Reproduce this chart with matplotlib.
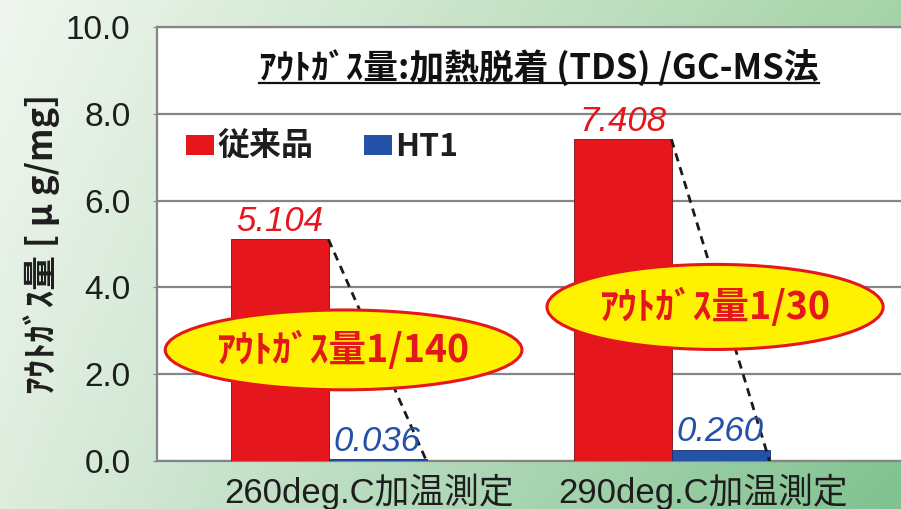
import numpy as np
import matplotlib
matplotlib.use("Agg")
import matplotlib.pyplot as plt
from matplotlib.patches import Patch, Ellipse
from matplotlib.lines import Line2D
from matplotlib.transforms import ScaledTranslation

# ---- data ----
categories = ["260deg.C加温測定", "290deg.C加温測定"]
series_names = ["従来品", "HT1"]
conventional = [5.104, 7.408]
ht1 = [0.036, 0.260]
ratio_labels = ["ｱｳﾄｶﾞｽ量1/140", "ｱｳﾄｶﾞｽ量1/30"]
title = "ｱｳﾄｶﾞｽ量:加熱脱着 (TDS) /GC-MS法"
ylabel = "ｱｳﾄｶﾞｽ量 [ μ g/mg]"
yticks = [0.0, 2.0, 4.0, 6.0, 8.0, 10.0]

RED = "#e5161c"
BLUE = "#2352a8"
FAM = ["Liberation Sans", "Noto Sans CJK JP", "DejaVu Sans"]
CJK = ["Noto Sans CJK JP", "DejaVu Sans"]
plt.rcParams["font.family"] = FAM

W, H = 901, 509
fig = plt.figure(figsize=(W / 100, H / 100), dpi=100)

# background gradient
bg = fig.add_axes([0, 0, 1, 1], zorder=-10)
tl = np.array([240, 246, 239]) / 255
tr = np.array([166, 212, 168]) / 255
bl = np.array([222, 237, 222]) / 255
br = np.array([128, 194, 144]) / 255
u = np.linspace(0, 1, 200)[None, :, None]
v = np.linspace(0, 1, 120)[:, None, None]
img = (1 - v) * ((1 - u) * tl + u * tr) + v * ((1 - u) * bl + u * br)
bg.imshow(img, aspect="auto", extent=[0, 1, 0, 1], origin="upper")
bg.set_axis_off()

left_px, right_px, top_px, bot_px = 157, 910, 27, 461
ax = fig.add_axes([left_px / W, (H - bot_px) / H,
                   (right_px - left_px) / W, (bot_px - top_px) / H])
ax.set_facecolor("white")

x = np.arange(len(categories))
w = 1 / 3.5
ax.bar(x - w / 2, conventional, w, color=RED, edgecolor="#7a1010", linewidth=0.6, zorder=3)
ax.bar(x + w / 2, ht1, w, color=BLUE, edgecolor="#1a2f66", linewidth=0.6, zorder=3)

ax.set_xlim(-0.5, (right_px - 328.5) / 343)
ax.set_ylim(0, 10)
ax.set_yticks(yticks)
ax.set_yticklabels([f"{t:.1f}" for t in yticks], fontsize=24, color="#1e1e1e",
                   family=["Liberation Sans"])
ax.tick_params(axis="y", length=3, pad=16, color="#888888")
ax.yaxis.grid(True, color="#858585", linewidth=1.6, zorder=0)
ax.set_axisbelow(True)
for s in ["left", "bottom", "top"]:
    ax.spines[s].set_color("#858585")
    ax.spines[s].set_linewidth(1.6)
ax.spines["right"].set_visible(False)

ax.set_xticks(x)
ax.set_xticklabels(categories, fontsize=25, color="#1e1e1e")
ax.tick_params(axis="x", length=0, pad=9)
offs = [41, 32]
for lab, o in zip(ax.get_xticklabels(), offs):
    lab.set_transform(lab.get_transform() + ScaledTranslation(o / 100, 0, fig.dpi_scale_trans))

ax.set_ylabel(ylabel, fontsize=25, fontweight="bold", color="#1e1e1e", family=CJK, labelpad=4)

# dashed connectors
for i in range(len(categories)):
    ax.plot([x[i], x[i] + w], [conventional[i], 0], ls=(0, (3, 2.2)), color="#1a1a1a",
            lw=2.0, zorder=4)

# value labels
for i in range(len(categories)):
    ax.annotate(f"{conventional[i]:.3f}", (x[i] - w / 2, conventional[i]), xytext=(0, 1),
                textcoords="offset points", ha="center", va="bottom", fontsize=25,
                style="italic", color=RED, zorder=6)
    ax.annotate(f"{ht1[i]:.3f}", (x[i] + w / 2, ht1[i]), xytext=(0, 1),
                textcoords="offset points", ha="center", va="bottom", fontsize=25,
                style="italic", color=BLUE, zorder=6)

# ellipses
ell_pos = [(0.044, 2.56, 1.04, 1.84), (1.127, 3.55, 0.98, 1.96)]
for (cx, cy, ew, eh), lab in zip(ell_pos, ratio_labels):
    ax.add_patch(Ellipse((cx, cy), ew, eh, facecolor="#fff200", edgecolor=RED, lw=2.2, zorder=7))
    ax.text(cx, cy, lab, ha="center", va="center", fontsize=27, fontweight="bold",
            color=RED, zorder=8, family=CJK)

# inner title
t = ax.text(0.507, 0.906, title, transform=ax.transAxes, ha="center", va="center",
            fontsize=25, fontweight="bold", color="#111111", family=CJK, zorder=6)

# legend
handles = [Patch(facecolor=RED, edgecolor="none"), Patch(facecolor=BLUE, edgecolor="none")]
leg = ax.legend(handles, series_names, loc="center left", bbox_to_anchor=(0.039, 0.7235),
                ncol=2, frameon=False, borderaxespad=0, borderpad=0,
                handlelength=0.85, handleheight=0.6, handletextpad=0.12, columnspacing=1.6,
                prop={"family": CJK, "weight": "bold", "size": 23})
for txt in leg.get_texts():
    txt.set_color("#1e1e1e")

# underline title
fig.canvas.draw()
bb = t.get_window_extent()
inv = fig.transFigure.inverted()
(x0, y0), (x1, _) = inv.transform([(bb.x0, bb.y0 + 3), (bb.x1, bb.y0)])
fig.add_artist(Line2D([x0, x1], [y0, y0], color="#111111", lw=1.6))

fig.savefig("out.png", dpi=100)
